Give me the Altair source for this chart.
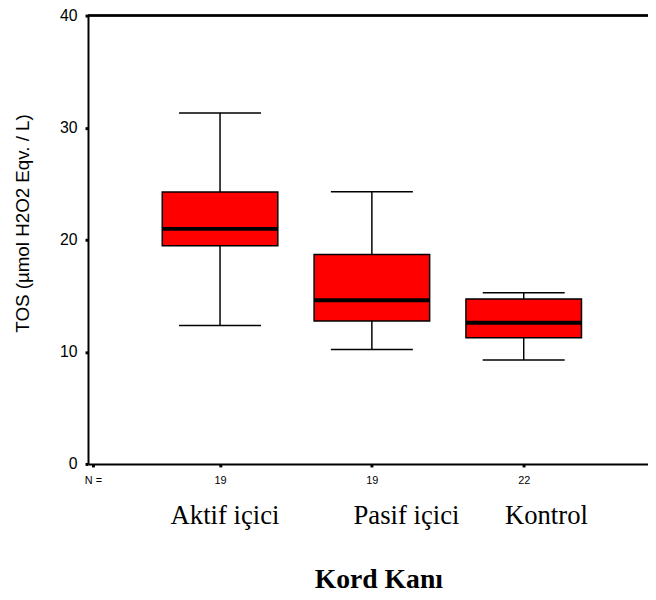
import altair as alt
import pandas as pd

groups = ["Aktif içici", "Pasif içici", "Kontrol"]
counts = [19, 19, 22]
pos = [1, 2, 3]
lo = [12.36, 10.22, 9.28]
q1 = [19.47, 12.75, 11.25]
med = [20.97, 14.60, 12.60]
q3 = [24.26, 18.68, 14.71]
hi = [31.30, 24.29, 15.27]

df = pd.DataFrame({"grp": groups, "n": counts, "pos": pos, "lo": lo,
                   "q1": q1, "med": med, "q3": q3, "hi": hi})

XMIN, XMAX = 0.163, 3.786
xs = alt.Scale(domain=[XMIN, XMAX], nice=False, zero=False)
ys = alt.Scale(domain=[0, 40], nice=False)

n_expr = ("datum.value < 0.5 ? 'N =' : datum.value < 1.5 ? '19' : "
          "datum.value < 2.5 ? '19' : '22'")

x_axis = alt.Axis(values=[XMIN, 1, 2, 3], labelExpr=n_expr, grid=False,
                  domainColor="black", domainWidth=2, tickColor="black",
                  tickSize=3, tickWidth=3, labelFont="Liberation Sans",
                  labelFontSize=11, labelColor="black", labelPadding=8,
                  labelFlush=False, labelOverlap=False,
                  title="Kord Kanı", titleFont="Liberation Serif",
                  titleFontSize=28, titleFontWeight="bold", titleColor="black",
                  titleX=294, titleY=117, titleBaseline="middle",
                  titleAlign="center")
y_axis = alt.Axis(values=[0, 10, 20, 30, 40], grid=False, domainColor="black",
                  domainWidth=2, tickColor="black", tickSize=3, tickWidth=3,
                  labelFont="Liberation Sans", labelFontSize=16,
                  labelColor="black", labelPadding=8, labelFlush=False,
                  labelOverlap=False,
                  title="TOS (µmol H2O2 Eqv. / L)",
                  titleFont="Liberation Sans",
                  titleFontSize=19, titleFontWeight="normal", titleColor="black",
                  titleX=-66, titleY=210, titleAlign="center",
                  titleBaseline="middle", titleAngle=270)

base = alt.Chart(df)

top = base.mark_rule(color="black", strokeWidth=2).encode(y=alt.datum(40, scale=ys))

whisk = base.mark_rule(color="black", strokeWidth=1.5).encode(
    x=alt.X("pos:Q", scale=xs, axis=x_axis),
    y=alt.Y("lo:Q", scale=ys, axis=y_axis),
    y2="hi:Q")

box = base.mark_bar(size=117, color="#FF0000", stroke="black",
                    strokeWidth=1.5).encode(
    x=alt.X("pos:Q", scale=xs), y=alt.Y("q1:Q", scale=ys), y2="q3:Q")

median = base.mark_tick(orient="horizontal", size=117, thickness=4,
                        color="black", opacity=1).encode(
    x=alt.X("pos:Q", scale=xs), y=alt.Y("med:Q", scale=ys))

cap_lo = base.mark_tick(orient="horizontal", size=83, thickness=1.5,
                        color="black", opacity=1).encode(
    x=alt.X("pos:Q", scale=xs), y=alt.Y("lo:Q", scale=ys))
cap_hi = base.mark_tick(orient="horizontal", size=83, thickness=1.5,
                        color="black", opacity=1).encode(
    x=alt.X("pos:Q", scale=xs), y=alt.Y("hi:Q", scale=ys))

label_dx = {"Aktif içici": 5, "Pasif içici": 35, "Kontrol": 23}
labels = []
for g, d in label_dx.items():
    labels.append(
        base.transform_filter(alt.datum.grp == g).mark_text(
            font="Liberation Serif", fontSize=27, color="black",
            baseline="middle", align="center", dx=d).encode(
            x=alt.X("pos:Q", scale=xs), y=alt.value(507), text="grp:N"))

chart = alt.layer(top, whisk, box, median, cap_lo, cap_hi, *labels).properties(
    width=567, height=454,
    padding={"left": 81, "top": 4, "right": 0, "bottom": 128},
    autosize=alt.AutoSizeParams(type="none"),
    background="white",
).configure_view(stroke=None)

chart.save("out.html", embed_options={"renderer": "svg", "actions": False})
